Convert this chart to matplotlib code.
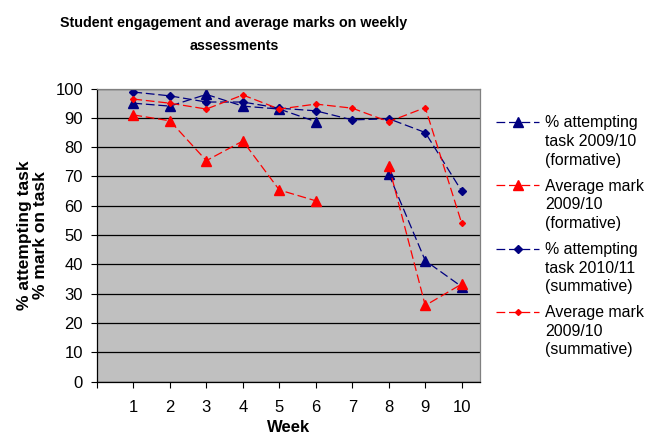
import numpy as np
import matplotlib
matplotlib.use("Agg")
import matplotlib.pyplot as plt
from matplotlib.legend_handler import HandlerLine2D

plt.rcParams['font.family'] = ['Liberation Sans', 'DejaVu Sans']

weeks = [1, 2, 3, 4, 5, 6, 7, 8, 9, 10]
week_labels = ['1', '2', '3', '4', '5', '6', '7', '8', '9', '10']

# week 7 missing for the 2009/10 formative series
attempt_0910 = [95, 94, 98, 94, 93, 88.7, np.nan, 70.8, 41.3, 32.4]
mark_0910_form = [91, 89, 75.4, 82.1, 65.4, 61.7, np.nan, 73.7, 26, 33.3]
attempt_1011 = [98.8, 97.5, 95.4, 95.4, 93.3, 92.4, 89.3, 89.7, 85, 65]
mark_0910_summ = [96.4, 95, 93, 97.8, 93, 94.7, 93.3, 88.7, 93.5, 54]

navy = '#000080'
red = '#ff0000'
dash = (7, 3)


class FirstLineHandler(HandlerLine2D):
    # move the legend sample up next to the first line of a 3-line label
    def create_artists(self, legend, orig_handle, xdescent, ydescent,
                       width, height, fontsize, trans):
        arts = super().create_artists(legend, orig_handle, xdescent, ydescent,
                                      width, height, fontsize, trans)
        for a in arts:
            a.set_ydata(np.asarray(a.get_ydata()) + 1.25 * fontsize)
        return arts


fig = plt.figure(figsize=(6.46, 4.34), dpi=100)
ax = fig.add_axes([0.150, 0.1205, 0.593, 0.6755])
ax.set_facecolor('#c0c0c0')

ax.plot(weeks, attempt_0910, color=navy, lw=0.9, dashes=dash, marker='^',
        ms=6.5, label='% attempting\ntask 2009/10\n(formative)')
ax.plot(weeks, mark_0910_form, color=red, lw=0.9, dashes=dash, marker='^',
        ms=6.5, label='Average mark\n2009/10\n(formative)')
ax.plot(weeks, attempt_1011, color=navy, lw=0.9, dashes=dash, marker='D',
        ms=4.5, label='% attempting\ntask 2010/11\n(summative)')
ax.plot(weeks, mark_0910_summ, color=red, lw=0.9, dashes=dash, marker='D',
        ms=3, label='Average mark\n2009/10\n(summative)')

ax.set_xlim(0, 10.5)
ax.set_ylim(0, 100)
ax.set_xticks(range(0, 11))
ax.set_xticklabels([''] + week_labels)
ax.set_yticks(range(0, 101, 10))
ax.yaxis.grid(True, color='black', lw=0.9)
ax.set_axisbelow(True)
ax.tick_params(axis='both', direction='out', length=4, width=0.8,
               labelsize=12, colors='black', pad=6)
ax.tick_params(axis='x', pad=9)

for s in ['top', 'right']:
    ax.spines[s].set_color('#808080')
    ax.spines[s].set_linewidth(0.9)
for s in ['left', 'bottom']:
    ax.spines[s].set_color('black')
    ax.spines[s].set_linewidth(0.9)

ax.set_xlabel('Week', fontsize=12, fontweight='bold', labelpad=4)
ax.set_ylabel('% attempting task\n% mark on task', fontsize=12.5,
              fontweight='bold', labelpad=5, linespacing=1.1)

fig.text(0.362, 0.962, 'Student engagement and average marks on weekly\nassessments',
         ha='center', va='top', fontsize=10.3, fontweight='bold',
         linespacing=1.8)

leg = ax.legend(loc='upper left', bbox_to_anchor=(0.768, 0.734),
                bbox_transform=fig.transFigure, frameon=False,
                fontsize=11.4, handlelength=2.7, handletextpad=0.4,
                labelspacing=0.7, borderpad=0, borderaxespad=0,
                handler_map={matplotlib.lines.Line2D: FirstLineHandler()})
for t in leg.get_texts():
    t.set_linespacing(1.3)

plt.savefig('out.png', dpi=100)
